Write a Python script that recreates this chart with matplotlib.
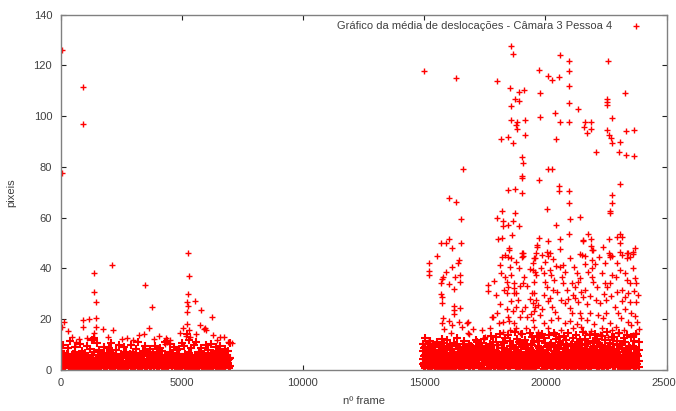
import numpy as np
import matplotlib
matplotlib.use("Agg")
import matplotlib.pyplot as plt

plt.rcParams['font.family'] = ['Liberation Sans', 'DejaVu Sans']

# dense band of small displacements, sampled every 100 frames (interleaved passes)
band_left_frames = list(range(0, 7001, 100))
band_left_lo = [1.2, 2.8, 0.6, 3.1, 1.9, 0.4, 2.5, 1.1, 3.3, 0.8, 2.2, 1.5, 0.3, 2.9, 1.7, 0.9, 3.0, 2.1, 0.5, 1.4,
                2.6, 0.7, 3.2, 1.8, 1.0, 2.4, 0.4, 2.9, 1.3, 2.0, 0.8, 3.1, 1.6, 0.5, 2.7, 1.2, 2.3, 0.6, 3.0, 1.9,
                0.9, 2.5, 1.4, 0.3, 2.8, 1.7, 1.1, 3.2, 0.7, 2.1, 1.5, 2.9, 0.5, 1.8, 2.6, 1.0, 3.3, 0.8, 2.2, 1.3,
                0.4, 2.7, 1.9, 0.9, 3.0, 1.6, 2.4, 0.6, 1.2, 2.8, 1.5]
band_left_mid = [4.5, 6.2, 3.1, 5.8, 2.6, 4.9, 7.0, 3.8, 5.3, 2.9, 6.5, 4.1, 3.4, 5.9, 6.8, 4.4, 2.7, 5.1, 6.0, 3.6,
                 4.8, 6.6, 2.8, 5.5, 3.9, 4.6, 6.3, 3.2, 5.0, 4.2, 2.9, 6.1, 5.4, 3.7, 4.3, 6.7, 3.0, 5.2, 4.0, 5.7,
                 6.4, 3.3, 4.7, 5.6, 2.8, 6.9, 4.2, 5.1, 3.5, 6.2, 4.8, 3.1, 5.8, 6.5, 4.4, 3.6, 5.3, 6.0, 2.9, 4.9,
                 5.5, 3.8, 6.3, 4.1, 5.0, 3.4, 6.6, 4.6, 5.2, 3.9, 4.5]
band_left_hi = [7.5, 9.8, 5.2, 8.4, 11.2, 6.3, 8.9, 5.6, 10.1, 7.2, 6.0, 9.4, 8.1, 11.8, 12.3, 10.6, 7.8, 5.9, 9.1, 6.7,
                8.5, 10.4, 5.4, 7.9, 9.6, 6.2, 8.8, 7.1, 5.5, 9.9, 6.9, 8.3, 10.7, 5.8, 7.4, 9.2, 6.4, 8.0, 6.8, 9.5,
                5.7, 8.6, 7.3, 10.9, 11.4, 10.2, 6.5, 9.0, 7.7, 8.2, 10.5, 9.3, 13.9, 11.6, 8.7, 9.7, 10.8, 7.0, 8.4, 6.1,
                9.8, 7.6, 10.3, 6.6, 8.9, 7.2, 9.4, 6.0, 8.1, 7.5, 10.4]

band_left_frames2 = list(range(50, 7000, 100))
band_left_lo2 = [2.3, 0.9, 3.4, 1.5, 0.6, 2.7, 1.8, 3.6, 0.4, 2.1, 1.2, 3.0, 2.6, 0.7, 1.9, 3.3, 1.0, 2.4, 0.5, 3.1,
                 1.6, 2.8, 0.8, 3.5, 2.0, 1.3, 0.4, 2.9, 3.2, 1.7, 0.6, 2.5, 1.1, 3.4, 2.2, 0.9, 1.8, 3.0, 0.5, 2.6,
                 1.4, 3.3, 2.0, 0.7, 1.6, 2.8, 3.5, 1.0, 0.4, 2.3, 3.1, 1.5, 2.7, 0.8, 1.9, 3.6, 0.6, 2.4, 1.2, 3.0,
                 2.1, 0.5, 1.7, 3.2, 2.5, 0.9, 1.3, 3.4, 2.0, 0.7]
band_left_mid2 = [5.1, 3.4, 6.0, 4.2, 2.8, 5.6, 3.9, 4.7, 6.3, 3.1, 5.3, 4.0, 2.6, 5.9, 4.5, 3.7, 6.2, 2.9, 4.8, 5.5,
                  3.3, 6.4, 4.1, 5.0, 2.7, 4.6, 5.8, 3.5, 6.1, 4.3, 3.0, 5.2, 4.9, 2.8, 6.0, 3.8, 5.4, 4.4, 3.2, 5.7,
                  6.5, 3.6, 4.2, 5.1, 2.9, 6.2, 4.7, 3.4, 5.5, 4.0, 3.1, 6.3, 5.0, 3.7, 4.6, 5.9, 2.8, 4.1, 6.0, 3.5,
                  5.3, 4.4, 2.7, 5.8, 3.9, 6.1, 4.8, 3.3, 5.6, 4.3]

band_left_frames3 = list(range(25, 7000, 100))
band_left_lo3 = [3.8, 1.1, 2.4, 4.2, 0.5, 3.0, 1.7, 4.6, 2.2, 0.8, 3.5, 1.4, 4.0, 2.7, 0.6, 3.2, 1.9, 4.4, 1.0, 2.6,
                 3.9, 0.7, 2.1, 4.7, 1.5, 3.3, 0.4, 2.8, 4.1, 1.2, 3.6, 2.0, 0.9, 4.5, 2.5, 1.6, 3.1, 0.5, 4.3, 2.3,
                 1.1, 3.7, 2.9, 0.7, 4.0, 1.8, 3.4, 2.4, 0.6, 4.6, 1.3, 3.0, 2.0, 4.2, 0.8, 3.5, 1.7, 2.6, 4.4, 1.0,
                 3.2, 2.2, 0.5, 3.9, 1.5, 4.1, 2.8, 0.9, 3.6, 1.9]
band_left_frames4 = list(range(75, 7000, 100))
band_left_lo4 = [0.7, 3.3, 2.0, 4.5, 1.2, 2.7, 0.4, 3.8, 1.6, 4.3, 2.4, 0.9, 3.1, 1.8, 4.7, 0.6, 2.9, 3.6, 1.3, 2.2,
                 4.0, 0.8, 3.4, 1.5, 2.6, 4.4, 0.5, 3.0, 1.9, 3.7, 1.1, 4.2, 2.3, 0.7, 3.2, 1.4, 4.6, 2.8, 1.0, 3.5,
                 2.1, 4.1, 0.6, 3.0, 1.7, 2.5, 4.3, 1.2, 3.8, 0.9, 2.7, 4.5, 1.5, 3.1, 2.0, 0.4, 3.6, 1.8, 4.2, 2.6,
                 0.8, 3.4, 1.3, 4.0, 2.2, 0.6, 3.7, 1.6, 2.9, 4.4]

band_right_frames = list(range(14950, 23851, 100))
band_right_lo = [2.1, 0.8, 3.5, 1.6, 2.9, 0.5, 3.8, 1.2, 2.4, 0.9, 3.1, 1.8, 0.4, 2.7, 3.6, 1.1, 2.2, 0.7, 3.3, 1.5,
                 2.8, 0.6, 3.9, 1.9, 1.0, 2.5, 3.2, 0.3, 1.7, 2.9, 3.7, 1.3, 0.8, 2.3, 3.4, 1.6, 0.5, 2.6, 3.0, 1.2,
                 2.0, 3.8, 0.9, 1.4, 2.7, 3.5, 0.6, 2.2, 1.8, 3.1, 0.4, 2.5, 3.6, 1.1, 1.9, 2.8, 0.7, 3.3, 1.5, 2.4,
                 3.9, 1.0, 2.1, 0.5, 3.0, 1.7, 2.6, 3.4, 0.8, 1.3, 2.9, 3.7, 0.6, 2.3, 1.6, 3.2, 1.1, 2.0, 3.5, 0.9,
                 2.7, 1.4, 3.8, 0.4, 2.2, 1.8, 3.1, 0.7, 2.5, 1.2]
band_right_lo2 = [4.2, 5.8, 2.6, 6.5, 3.9, 5.1, 2.2, 6.8, 4.6, 3.3, 5.5, 6.1, 2.9, 4.8, 3.6, 6.3, 5.0, 2.4, 4.1, 5.9,
                  3.2, 6.6, 4.4, 2.8, 5.3, 3.7, 6.0, 4.9, 2.5, 5.6, 3.4, 6.4, 4.0, 5.2, 2.7, 6.9, 3.8, 4.7, 5.7, 3.0,
                  6.2, 4.3, 2.3, 5.4, 3.5, 6.7, 4.5, 3.1, 5.8, 2.6, 4.9, 6.3, 3.6, 5.0, 4.2, 2.9, 6.5, 3.9, 5.5, 4.6,
                  2.4, 6.0, 3.3, 5.1, 4.8, 6.8, 3.0, 5.6, 4.1, 2.7, 6.1, 3.7, 5.3, 4.4, 2.5, 6.6, 3.5, 5.9, 4.0, 6.4,
                  3.2, 5.4, 4.7, 2.8, 6.2, 3.8, 5.0, 4.3, 6.7, 3.4]
band_right_mid = [7.2, 9.1, 5.4, 8.3, 6.6, 9.8, 5.0, 7.7, 8.9, 6.1, 9.4, 5.7, 8.0, 7.0, 9.9, 6.4, 5.2, 8.6, 7.4, 9.3,
                  6.0, 8.1, 5.6, 9.6, 7.1, 6.8, 8.8, 5.3, 9.0, 7.6, 6.2, 9.7, 5.9, 8.4, 7.3, 6.5, 9.2, 5.5, 8.7, 7.9,
                  6.3, 9.5, 5.1, 8.2, 7.5, 9.9, 6.7, 5.8, 8.5, 7.8, 6.1, 9.1, 5.4, 8.9, 7.2, 6.9, 9.6, 5.7, 8.0, 7.4,
                  6.6, 9.3, 5.2, 8.6, 7.0, 9.8, 6.0, 8.3, 5.9, 7.7, 9.0, 6.4, 8.8, 5.5, 7.1, 9.4, 6.2, 8.1, 5.3, 7.9,
                  9.7, 6.8, 8.4, 5.6, 7.3, 9.2, 6.5, 8.7, 5.0, 7.6]
band_right_hi = [10.2, 12.4, 8.6, 11.1, 9.3, 7.8, 10.8, 9.0, 12.0, 8.2, 11.5, 9.7, 8.0, 10.4, 12.6, 9.1, 7.9, 11.3, 8.7, 10.0,
                 9.4, 7.6, 11.8, 8.9, 10.6, 12.2, 9.5, 8.3, 13.1, 11.0, 12.8, 9.8, 14.2, 10.9, 12.5, 13.6, 11.4, 9.9, 14.8, 12.1,
                 10.3, 13.9, 11.7, 9.6, 14.5, 12.9, 10.7, 13.3, 11.2, 14.0, 12.3, 9.2, 13.7, 10.5, 14.6, 11.9, 12.7, 10.1, 13.4, 11.6,
                 14.3, 9.8, 12.6, 13.8, 10.8, 11.5, 14.9, 12.2, 10.4, 13.5, 11.3, 14.1, 12.0, 9.7, 13.2, 11.8, 14.7, 10.6, 12.9, 13.0,
                 11.1, 14.4, 10.0, 12.4, 13.6, 9.5, 12.8, 11.4, 14.2, 10.9]

band_right_frames2 = list(range(15000, 23801, 100))
band_right_lo3 = [1.4, 3.2, 0.6, 2.5, 3.7, 1.0, 2.2, 0.4, 3.4, 1.8, 2.8, 0.7, 3.9, 1.3, 2.0, 3.5, 0.5, 2.6, 1.7, 3.1,
                  0.9, 2.3, 3.6, 1.2, 0.4, 2.9, 3.3, 1.6, 2.1, 0.8, 3.8, 1.1, 2.7, 0.5, 3.0, 1.9, 2.4, 3.5, 0.7, 1.5,
                  3.2, 2.0, 0.3, 2.8, 1.3, 3.7, 0.9, 2.2, 3.4, 1.7, 0.6, 2.6, 3.1, 1.0, 2.0, 3.8, 0.5, 1.8, 2.9, 1.2,
                  3.3, 0.8, 2.4, 3.6, 1.4, 0.4, 2.7, 3.0, 1.9, 0.7, 2.2, 3.5, 1.1, 2.6, 0.5, 3.2, 1.6, 2.9, 0.9, 3.7,
                  1.3, 2.1, 3.4, 0.6, 2.5, 1.8, 3.0, 0.8, 2.3]
band_right_lo4 = [5.5, 3.1, 6.4, 4.3, 2.7, 5.9, 4.8, 3.5, 7.0, 2.9, 5.2, 4.0, 6.6, 3.3, 5.7, 2.5, 4.6, 6.1, 3.8, 5.0,
                  7.2, 3.0, 4.4, 6.3, 2.8, 5.4, 3.6, 6.8, 4.1, 2.6, 5.8, 4.7, 3.2, 6.0, 5.1, 2.9, 7.1, 3.9, 4.5, 6.5,
                  3.4, 5.6, 2.7, 4.9, 6.2, 3.7, 5.3, 7.4, 2.8, 4.2, 6.7, 3.5, 5.0, 4.0, 6.9, 3.1, 5.5, 2.6, 4.8, 6.4,
                  3.8, 5.9, 4.3, 2.9, 7.0, 3.3, 5.1, 6.1, 4.6, 2.7, 5.7, 3.6, 6.6, 4.4, 3.0, 5.2, 7.3, 3.9, 4.7, 6.0,
                  2.8, 5.4, 4.1, 6.8, 3.2, 5.8, 4.5, 3.4, 6.3]
band_right_mid2 = [8.4, 6.2, 10.1, 7.5, 9.3, 5.8, 8.8, 7.0, 10.6, 6.5, 9.0, 7.8, 5.5, 9.7, 8.1, 6.8, 10.3, 7.2, 5.9, 9.5,
                   8.6, 6.4, 10.8, 7.6, 9.1, 5.6, 8.3, 10.0, 6.9, 7.9, 9.8, 6.0, 8.5, 10.4, 7.3, 6.6, 9.4, 8.0, 5.7, 10.9,
                   7.1, 9.6, 6.3, 8.7, 10.2, 7.4, 5.9, 9.2, 8.2, 6.7, 10.5, 7.7, 9.9, 6.1, 8.9, 7.0, 10.7, 5.8, 8.4, 9.3,
                   6.5, 10.0, 7.6, 8.8, 6.2, 9.7, 7.3, 10.3, 5.6, 8.1, 9.5, 6.8, 10.6, 7.9, 8.6, 6.0, 9.1, 7.4, 10.1, 6.4,
                   8.3, 9.8, 7.1, 10.8, 5.9, 8.7, 9.4, 6.6, 7.8]

band_right_frames3 = list(range(14975, 23800, 100))
band_right_lo5 = [2.6, 4.9, 1.1, 3.7, 5.5, 0.7, 2.9, 4.3, 1.6, 5.8, 3.2, 0.5, 4.6, 2.0, 3.9, 5.2, 1.3, 2.7, 4.1, 0.9,
                  5.6, 3.4, 1.8, 4.8, 2.3, 0.6, 3.6, 5.0, 1.5, 4.4, 2.8, 0.8, 5.3, 3.1, 1.9, 4.7, 2.5, 5.9, 1.2, 3.8,
                  0.6, 4.2, 2.1, 5.4, 3.3, 1.0, 4.5, 2.7, 5.7, 1.7, 3.5, 0.5, 4.9, 2.4, 3.9, 1.4, 5.1, 2.9, 0.8, 4.3,
                  3.0, 5.6, 1.6, 3.7, 0.7, 4.6, 2.2, 5.3, 1.1, 3.4, 4.8, 2.0, 0.6, 5.0, 3.1, 1.8, 4.1, 2.6, 5.5, 0.9,
                  3.6, 1.3, 4.4, 2.8, 5.8, 1.5, 3.2, 4.7, 2.3]
band_right_frames4 = list(range(15025, 23850, 100))
band_right_lo6 = [4.0, 1.7, 3.3, 0.6, 5.1, 2.5, 4.6, 1.2, 3.8, 0.8, 5.5, 2.1, 3.0, 4.9, 1.5, 0.5, 3.6, 5.7, 2.3, 4.2,
                  1.0, 3.1, 5.3, 0.7, 2.8, 4.5, 1.9, 3.5, 5.9, 1.3, 2.6, 4.8, 0.9, 3.9, 5.0, 1.6, 2.2, 4.3, 0.5, 3.4,
                  5.6, 2.0, 1.1, 4.7, 3.0, 5.2, 0.8, 2.7, 4.0, 1.4, 3.7, 5.8, 2.4, 0.6, 4.4, 3.2, 1.8, 5.4, 2.9, 0.9,
                  4.1, 1.5, 3.6, 5.1, 2.1, 0.7, 4.9, 3.3, 1.2, 5.7, 2.6, 3.9, 0.5, 4.6, 1.7, 3.0, 5.5, 2.2, 1.0, 4.2,
                  3.5, 0.8, 5.0, 2.7, 1.4, 4.8, 3.1, 0.6, 5.3]

# scattered frames above the band (frame, pixels)
left_frames = [75, 940, 940, 75, 5270, 5300, 5270, 5230, 5270, 5230, 5546, 5794, 6260,
               2124, 1395, 1395, 1450, 1450, 1450, 1395, 3485, 3760, 930, 930, 1190, 50, 145, 300,
               1740, 2150, 3650, 3445, 3225, 460, 1970, 2730, 4350, 5040, 5750, 5960, 6300, 6580, 7060,
               5230, 5310, 5180, 5350, 5900, 6020, 5600, 4950, 4500, 4400, 4300, 1380, 1320, 760, 620,
               1100, 2550, 2980, 3850, 4050, 6450, 6750, 6900, 40, 20, 80]
left_values = [126.0, 111.6, 97.0, 77.4, 45.9, 36.9, 29.7, 26.7, 25.2, 22.9, 27.1, 23.6, 20.8,
               41.1, 38.0, 30.6, 26.7, 20.4, 17.0, 14.6, 33.5, 24.6, 19.6, 16.7, 20.1, 16.7, 18.8, 15.1,
               16.0, 15.6, 16.3, 14.2, 13.5, 13.0, 13.0, 12.4, 12.4, 16.3, 17.6, 16.3, 13.7, 13.0, 10.4,
               18.0, 15.5, 13.2, 12.8, 16.0, 15.8, 14.0, 14.5, 11.5, 10.8, 10.2, 12.5, 11.8, 12.0, 11.0,
               12.6, 12.0, 11.5, 12.0, 13.2, 11.5, 12.8, 11.0, 5.5, 2.0, 7.0]

right_frames = [15000, 16310, 16585, 16035, 16310, 18012, 18565, 18660, 18550, 18907, 19100, 18742, 18907,
                18565, 18565, 18838, 19168, 18770, 18838, 19168, 18177, 18454, 18647, 19018, 19059, 19043,
                19043, 18454, 18756, 19043, 19745, 20090, 20268, 20544, 20598, 20982, 20982, 20982, 20982,
                20982, 19800, 19800, 20404, 20598, 20433, 21354, 21643, 21890, 21588, 21890, 21725, 22095,
                22590, 22550, 22550, 22550, 23290, 22770, 22550, 22630, 22715, 22770, 23085, 23330, 23660,
                23045, 23330, 23660, 20090, 20268, 19745, 20570, 20544, 20982, 20982, 23085, 22770, 22770,
                16530, 16035, 15680, 15885, 16160, 16530, 15515, 18205, 18235, 18235, 18010, 18470, 18675,
                18755, 18907, 18632, 18030, 18220, 18510, 18510, 18320, 18590, 19030, 19030,
                22650, 22650, 20050, 21010, 21420, 20433, 20980, 21765, 19735, 20090, 20625, 21560, 21560,
                21875, 22630, 22960, 23070, 23180, 19660, 19660, 20075, 20625, 21420, 21655, 21865, 21970,
                22360, 23070, 22660, 22660, 23415, 23620, 23700, 23350, 19525,
                15210, 15210, 15210, 15690, 15720, 15780, 15690, 15720, 15750, 15897, 16035, 16170, 16260,
                16490, 16490, 16430, 16400, 16240, 16240, 16220, 16240, 16475, 15760, 15740, 16035, 16170,
                16420, 16760, 16800, 16570, 16800, 16850, 17370, 17640, 17640, 17985, 17795, 17860, 18095,
                18260, 18240, 18535, 18125, 18190, 18230, 18460, 18530, 18600, 18410, 18460, 18300, 18410,
                18700, 18720, 18720, 18950, 19070, 19060, 19060, 19360, 19570, 19150, 19020, 19230, 18800,
                18950, 18680, 18880, 18800, 19450, 19500, 19570, 18480, 18520, 18700, 18780,
                19500, 19570, 19600, 19880, 20110, 20180, 19500, 19600, 19530, 19840, 19940, 19980, 20050,
                20180, 20250, 20350, 20600, 20740, 20800, 20670, 20740, 20880, 21080, 21220, 21350, 21420,
                21490, 21630, 21560, 21905, 21905, 21530, 21905, 21905, 21970, 22320, 22460, 22530, 22660,
                22730, 22100, 22250, 22520, 22630, 22730, 23100, 23180, 23350, 23480, 23620, 22960, 23070,
                23280, 23350, 23480, 23180, 23280, 23410, 23480, 23760, 23760, 23790, 23760, 22860, 23000,
                23140, 23410, 23550, 19550, 19620, 19690, 19520, 19960, 20180, 20280, 20390, 20660, 20800,
                21010, 21080, 21220, 21420, 21490, 21700, 22180, 22390, 22660, 22730, 19960, 20250, 20530,
                20800, 21140, 21490, 21900, 22250, 22600, 19480, 19550, 19690,
                20000, 20320, 20450, 21000, 21200, 21300, 21650, 21780, 22050, 22200, 22480, 22900, 23600,
                23700, 23820, 23650, 23550, 23700, 23300, 23150, 22950, 22700, 22400, 22150, 21850, 21700,
                21350, 21150, 20950, 20500, 20300, 20100, 19850, 19350, 19250, 19100, 18900, 18800, 18350,
                18150, 18000, 17900, 17700, 18400, 18600, 19400, 19800, 20100, 20650, 21000, 21300, 21850,
                22000, 22500, 22900, 23250, 23600, 23850, 19200, 18950, 20400, 21650, 22350, 23000, 15150,
                15050, 15800, 16100, 17000, 17500]
right_values = [117.7, 115.0, 79.1, 67.6, 66.1, 113.8, 127.6, 124.6, 111.0, 109.4, 110.3, 106.9, 106.0,
                103.9, 98.5, 97.8, 98.3, 96.4, 94.8, 92.4, 90.8, 91.6, 89.3, 84.0, 81.5, 76.4,
                75.5, 70.8, 71.4, 69.5, 118.1, 115.7, 114.2, 115.3, 124.1, 121.6, 118.0, 112.1, 105.3,
                97.8, 109.0, 99.8, 101.3, 97.6, 91.1, 102.8, 97.7, 97.8, 95.6, 94.9, 93.5, 86.0,
                121.7, 106.9, 105.7, 104.5, 109.1, 99.3, 94.5, 92.5, 91.5, 89.5, 89.7, 94.2, 94.5,
                86.0, 84.5, 84.1, 79.1, 79.1, 74.8, 72.4, 70.6, 70.6, 65.8, 73.3, 68.7, 65.6,
                59.3, 51.5, 49.8, 49.8, 47.8, 49.8, 44.9, 62.7, 58.5, 56.5, 60.0, 57.0, 58.5,
                61.9, 56.8, 53.0, 51.6, 51.8, 47.9, 47.1, 45.2, 44.2, 45.9, 44.6,
                62.4, 61.8, 63.5, 59.4, 60.2, 56.9, 53.5, 53.5, 51.8, 50.9, 51.7, 51.3, 50.8,
                51.6, 51.6, 52.2, 53.5, 52.4, 49.1, 48.2, 46.6, 47.7, 45.6, 45.0, 48.7, 47.1,
                48.5, 50.1, 45.3, 44.5, 46.1, 45.8, 47.8, 44.2, 44.0,
                41.9, 39.0, 37.3, 34.0, 35.6, 36.6, 30.0, 28.8, 26.1, 38.6, 33.6, 40.6, 36.7,
                37.3, 34.7, 43.3, 42.0, 31.7, 25.1, 23.5, 22.0, 24.2, 20.2, 18.5, 19.3, 17.6,
                18.9, 18.5, 18.9, 17.0, 14.6, 14.0, 15.6, 33.4, 31.2, 29.4, 20.9, 20.9, 18.5,
                18.9, 15.0, 15.8, 41.3, 38.0, 44.6, 44.3, 40.6, 37.3, 34.7, 32.7, 31.4, 30.1,
                34.1, 32.2, 30.1, 33.1, 34.1, 44.9, 46.0, 39.8, 38.7, 24.9, 23.0, 20.9, 24.9,
                20.9, 23.0, 27.5, 30.1, 30.1, 26.2, 24.9, 20.9, 19.0, 18.3, 16.3,
                42.0, 44.0, 45.9, 45.2, 44.8, 46.1, 39.3, 37.3, 34.7, 39.9, 38.0, 34.7, 32.7,
                39.3, 37.3, 35.4, 40.6, 41.3, 38.6, 36.7, 34.0, 31.4, 34.0, 32.7, 34.7, 36.0,
                30.7, 31.4, 28.8, 47.2, 43.2, 45.2, 39.9, 36.7, 34.7, 38.0, 34.0, 32.7, 34.0,
                37.3, 27.5, 26.2, 27.5, 45.9, 44.8, 46.4, 45.2, 45.9, 44.6, 46.4, 42.0, 39.3,
                38.0, 35.4, 34.0, 31.4, 28.8, 30.1, 26.8, 34.0, 26.8, 18.9, 14.3, 24.9, 22.3,
                20.2, 18.9, 17.6, 30.1, 27.5, 25.5, 23.0, 29.4, 28.2, 24.9, 22.9, 27.5, 26.2,
                24.2, 22.3, 28.2, 22.3, 20.3, 19.6, 21.6, 20.2, 18.3, 15.7, 18.3, 19.6, 20.2,
                18.3, 16.3, 17.0, 15.3, 14.0, 13.0, 19.6, 17.0, 15.0,
                42.5, 43.5, 41.0, 44.0, 40.5, 38.2, 41.8, 38.5, 41.5, 44.5, 42.0, 36.5, 40.0,
                36.0, 29.5, 31.0, 22.5, 21.0, 24.0, 27.0, 30.5, 29.0, 30.0, 32.5, 29.0, 26.0,
                26.5, 29.5, 28.0, 30.5, 31.5, 27.0, 24.0, 28.0, 33.0, 36.5, 40.0, 42.5, 36.5,
                26.0, 22.5, 35.0, 16.5, 24.0, 27.0, 22.0, 21.5, 16.5, 15.5, 19.0, 18.0, 22.5,
                18.0, 22.5, 17.0, 15.5, 13.5, 16.0, 16.5, 14.5, 14.0, 14.5, 16.5, 14.5, 11.0,
                10.5, 16.0, 14.5, 16.0, 13.0]

band_frames = np.concatenate([band_left_frames * 3, band_left_frames2 * 2, band_left_frames3, band_left_frames4,
                              band_right_frames * 4, band_right_frames2 * 3, band_right_frames3, band_right_frames4])
band_values = np.concatenate([band_left_lo, band_left_mid, band_left_hi,
                              band_left_lo2, band_left_mid2, band_left_lo3, band_left_lo4,
                              band_right_lo, band_right_lo2, band_right_mid, band_right_hi,
                              band_right_lo3, band_right_lo4, band_right_mid2, band_right_lo5, band_right_lo6])
scatter_frames = left_frames + right_frames
scatter_values = left_values + right_values

fig = plt.figure(figsize=(6.76, 4.11), dpi=100)
ax = fig.add_axes([0.0895, 0.1007, 0.8965, 0.8633])

# the band holds far more frames than listed here, so its crosses are drawn a bit heavier
ax.plot(band_frames, band_values, linestyle='none', marker='+', color='#ff0000',
        markersize=5.5, markeredgewidth=1.5)
ax.plot(scatter_frames, scatter_values, linestyle='none', marker='+', color='#ff0000',
        markersize=5, markeredgewidth=1.0,
        label='Gráfico da média de deslocações - Câmara 3 Pessoa 4')

ax.set_xlim(0, 25000)
ax.set_ylim(0, 140)
ax.set_xticks(range(0, 25001, 5000))
ax.set_yticks(range(0, 141, 20))
ax.tick_params(direction='in', length=3.5, width=0.8, top=True, right=True,
               labelsize=8, colors='#222222', labelcolor='#404040', pad=6)
for s in ax.spines.values():
    s.set_color('#808080')
    s.set_linewidth(1.0)

ax.set_xlabel('nº frame', fontsize=8, color='#404040', labelpad=6)
ax.set_ylabel('pixeis', fontsize=8, color='#404040', labelpad=12.5)

leg = ax.legend(loc='upper right', bbox_to_anchor=(0.975, 1.0), frameon=False, markerfirst=False,
                fontsize=8, handlelength=1.5, handletextpad=1.4, borderaxespad=0.2)
for t in leg.get_texts():
    t.set_color('#404040')

fig.savefig('out.png', dpi=100)
